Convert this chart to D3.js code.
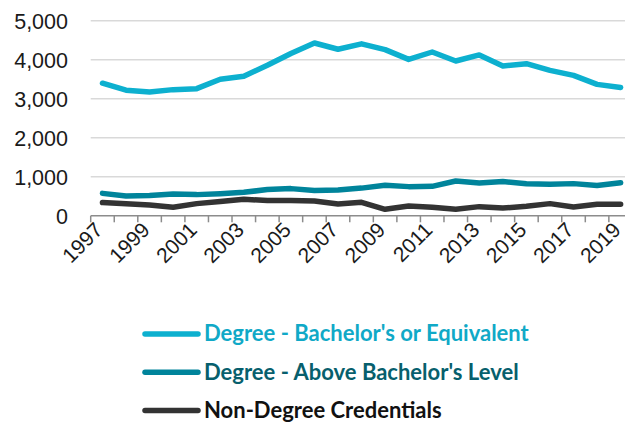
<!DOCTYPE html>
<html>
<head>
<meta charset="utf-8">
<script src="https://cdn.jsdelivr.net/npm/d3@7/dist/d3.min.js"></script>
<style>
  body { margin: 0; background: #fff; }
  svg { display: block; font-family: Lato, "Open Sans", sans-serif; }
  .grid line { stroke: #d9d9d9; stroke-width: 1.5; }
  .ylab text, .xlab text { fill: #1a1a1a; font-size: 21.5px; }
  .xlab text { font-size: 21px; }
  .series { fill: none; stroke-width: 5.5; stroke-linejoin: round; stroke-linecap: round; }
  .legend text { font-size: 22px; font-weight: bold; }
</style>
</head>
<body>
<svg width="625" height="423"></svg>
<script>
const years = d3.range(1997, 2020);
const bachelor = [3400, 3220, 3175, 3235, 3260, 3500, 3577, 3860, 4160, 4430, 4270, 4410,
  4260, 4010, 4200, 3970, 4125, 3840, 3900, 3730, 3600, 3370, 3290];
const aboveBachelor = [575, 505, 520, 560, 543, 568, 603, 672, 697, 646, 662, 710,
  782, 748, 756, 892, 841, 877, 820, 808, 825, 775, 850];
const nonDegree = [338, 312, 277, 218, 312, 364, 423, 390, 390, 380, 303, 345,
  167, 251, 218, 167, 235, 200, 243, 312, 226, 295, 295];
const yTicks = [0, 1000, 2000, 3000, 4000, 5000];
const seriesNames = ["Degree - Bachelor's or Equivalent", "Degree - Above Bachelor's Level", "Non-Degree Credentials"];
const lineColors = ['#0db0cf', '#00849b', '#333333'];
const textColors = ['#10a9c7', '#075f6d', '#111111'];

const svg = d3.select('svg');

const x = d3.scaleBand().domain(years).range([90.7, 632.4]);
const y = d3.scaleLinear().domain([0, 5000]).range([215.8, 20.8]);

// gridlines
svg.append('g').attr('class', 'grid')
  .selectAll('line').data(yTicks.filter(d => d > 0))
  .enter().append('line')
  .attr('x1', 90.7).attr('x2', 632.4)
  .attr('y1', y).attr('y2', y);

// y labels
svg.append('g').attr('class', 'ylab')
  .attr('transform', 'translate(68,0)')
  .call(d3.axisLeft(y).tickValues(yTicks).tickFormat(d3.format(',')).tickSize(0).tickPadding(0))
  .call(g => g.select('.domain').remove())
  .selectAll('text').attr('dy', '0.36em').style('font-family', null);

// x axis line and boundary ticks
const xAxisG = svg.append('g').attr('transform', `translate(0,${y(0)})`);
xAxisG.append('line')
  .attr('x1', 90.7).attr('x2', 632.4)
  .attr('stroke', '#8c8c8c').attr('stroke-width', 1.5);
xAxisG.selectAll('.tk').data(years)
  .enter().append('line').attr('class', 'tk')
  .attr('x1', d => x(d)).attr('x2', d => x(d))
  .attr('y1', 0).attr('y2', 6.5)
  .attr('stroke', '#8c8c8c').attr('stroke-width', 1.5);

// x labels
svg.append('g').attr('class', 'xlab')
  .attr('transform', `translate(0,${y(0) + 11})`)
  .call(d3.axisBottom(x).tickValues(years.filter(d => (d - 1997) % 2 === 0)).tickSize(0).tickPadding(0))
  .call(g => g.select('.domain').remove())
  .selectAll('text')
  .style('font-family', null)
  .attr('text-anchor', 'end')
  .attr('y', 0)
  .attr('dy', '0.3em')
  .attr('transform', 'translate(-3,0) rotate(-45)');

// lines
const lineGen = values => d3.line()
  .x((d, i) => x(years[i]) + x.bandwidth() / 2)
  .y(d => y(d))(values);

[nonDegree, aboveBachelor, bachelor].forEach((vals, k) => {
  svg.append('path').attr('class', 'series')
    .attr('stroke', lineColors[2 - k])
    .attr('d', lineGen(vals));
});

// legend
const legend = svg.append('g').attr('class', 'legend')
  .attr('transform', 'translate(145,334)');
const items = legend.selectAll('g').data(seriesNames)
  .enter().append('g')
  .attr('transform', (d, i) => `translate(0,${i * 38.3})`);
items.append('line')
  .attr('x1', 0).attr('x2', 53)
  .attr('stroke', (d, i) => lineColors[i])
  .attr('stroke-width', 5.5)
  .attr('stroke-linecap', 'round');
items.append('text')
  .attr('x', 59).attr('dy', '0.33em')
  .attr('fill', (d, i) => textColors[i])
  .text(d => d);
</script>
</body>
</html>
